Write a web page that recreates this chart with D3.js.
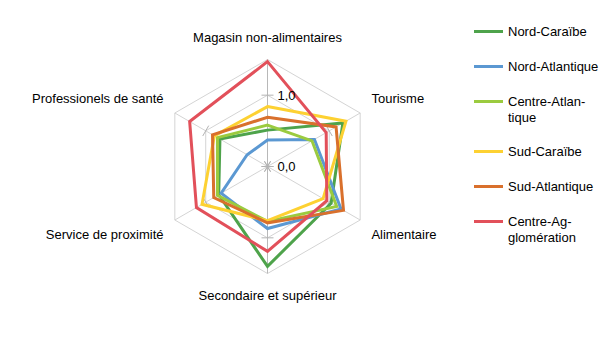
<!DOCTYPE html>
<html>
  <head>
    <meta charset="UTF-8">
    <title>Radar - regions</title>
    <script src="https://cdn.jsdelivr.net/npm/d3@7/dist/d3.min.js"></script>
    <style>
      body, html { margin:0; padding:0; background:#fff; }
      svg text { font-family: "Liberation Sans", Arial, sans-serif; font-size: 13px; fill:#000; }
      .grid { fill:none; stroke:#d4d4d4; stroke-width:1; }
      .spoke { stroke:#d4d4d4; stroke-width:1; }
      .tick { stroke:#b3b3b3; stroke-width:1; }
      .serie { fill:none; stroke-width:3; stroke-linejoin:miter; }
    </style>
  </head>
  <body>
<div id="chart"></div>
<script type="text/javascript">

var categories = ["Magasin non-alimentaires", "Tourisme", "Alimentaire",
                  "Secondaire et supérieur", "Service de proximité", "Professionels de santé"];

var seriesNames = ["Nord-Caraïbe", "Nord-Atlantique", "Centre-Atlantique",
                   "Sud-Caraïbe", "Sud-Atlantique", "Centre-Agglomération"];
// legend labels are wrapped like in the original
var legendLines = [["Nord-Caraïbe"], ["Nord-Atlantique"], ["Centre-Atlan-", "tique"],
                   ["Sud-Caraïbe"], ["Sud-Atlantique"], ["Centre-Ag-", "glomération"]];
var colors = ["#4ea34b", "#5b98d2", "#9bcb3f", "#fdd132", "#d9702c", "#e2505a"];

var nordCaraibe       = [0.51, 1.22, 1.03, 1.40, 0.79, 0.77];
var nordAtlantique    = [0.37, 0.76, 1.19, 0.87, 0.75, 0.33];
var centreAtlantique  = [0.58, 0.72, 1.12, 0.77, 0.81, 0.81];
var sudCaraibe        = [0.84, 1.27, 0.90, 0.76, 1.06, 0.86];
var sudAtlantique     = [0.69, 1.11, 1.23, 0.79, 0.87, 0.89];
var centreAgglo       = [1.47, 0.95, 0.96, 1.19, 1.15, 1.26];
var allValues = [nordCaraibe, nordAtlantique, centreAtlantique, sudCaraibe, sudAtlantique, centreAgglo];

var gridValues = [1.0, 1.5];
var tickValues = [0, 1.0];
var tickLabels = ["0,0", "1,0"];

var W = 605, H = 340, cx = 267.5, cy = 166.5;

var svg = d3.select('#chart').append('svg').attr('width', W).attr('height', H);
var g = svg.append('g').attr('transform', 'translate(' + cx + ',' + cy + ')');

var r = d3.scaleLinear().domain([0, 1.5]).range([0, 107]);
var angle = d3.scalePoint().domain(categories).range([0, 2 * Math.PI * 5 / 6]);

function pt(cat, v) {
  var a = angle(cat);
  return [r(v) * Math.sin(a), -r(v) * Math.cos(a)];
}

// grid rings
gridValues.forEach(function(v) {
  g.append('path').attr('class', 'grid')
    .attr('d', d3.lineRadial().angle(function(c){ return angle(c); }).radius(r(v))
      .curve(d3.curveLinearClosed)(categories));
});

// spokes
categories.forEach(function(c, i) {
  var p = pt(c, 1.5);
  g.append('line').attr('class', 'spoke')
    .attr('x1', 0).attr('y1', 0).attr('x2', p[0]).attr('y2', p[1])
    .style('stroke', i == 0 || i == 3 ? '#b8b8b8' : '#d4d4d4');
});

// tick marks on every spoke
categories.forEach(function(c) {
  var a = angle(c);
  tickValues.forEach(function(v) {
    var p = pt(c, v), dx = 6 * Math.cos(a), dy = 6 * Math.sin(a);
    g.append('line').attr('class', 'tick')
      .attr('x1', p[0] - dx).attr('y1', p[1] - dy)
      .attr('x2', p[0] + dx).attr('y2', p[1] + dy);
  });
});

// series
var radial = d3.lineRadial()
  .angle(function(d, i){ return angle(categories[i]); })
  .radius(function(d){ return r(d); })
  .curve(d3.curveLinearClosed);

allValues.forEach(function(vals, i) {
  g.append('path').attr('class', 'serie')
    .attr('d', radial(vals))
    .style('stroke', colors[i]);
});

// value labels on the first axis (drawn over the lines)
tickValues.forEach(function(v, i) {
  g.append('text').attr('x', 10).attr('y', -r(v)).attr('dy', '0.35em').text(tickLabels[i]);
});

// category labels
categories.forEach(function(c) {
  var a = angle(c), s = Math.sin(a), co = Math.cos(a);
  var side = Math.abs(s) > 0.1;
  var rl = side ? 120 : 129;
  var x = rl * s, y = -rl * co;
  if (side) y += co > 0 ? -8 : 8;
  g.append('text')
    .attr('x', x).attr('y', y).attr('dy', '0.35em')
    .attr('text-anchor', !side ? 'middle' : (s > 0 ? 'start' : 'end'))
    .text(c);
});

// legend
var legendY = [31.5, 66.5, 101.5, 151.5, 186.5, 221.5];
var legend = svg.append('g');
seriesNames.forEach(function(name, i) {
  var row = legend.append('g').attr('transform', 'translate(474,' + legendY[i] + ')');
  row.append('line').attr('x1', 0).attr('x2', 29).attr('y1', 0).attr('y2', 0)
    .style('stroke', colors[i]).style('stroke-width', 3);
  var t = row.append('text').attr('x', 34).attr('y', 0).attr('dy', '0.35em');
  legendLines[i].forEach(function(line, j) {
    t.append('tspan').attr('x', 34).attr('dy', j == 0 ? '0.35em' : '16px').text(line);
  });
});

</script>
  </body>
</html>
